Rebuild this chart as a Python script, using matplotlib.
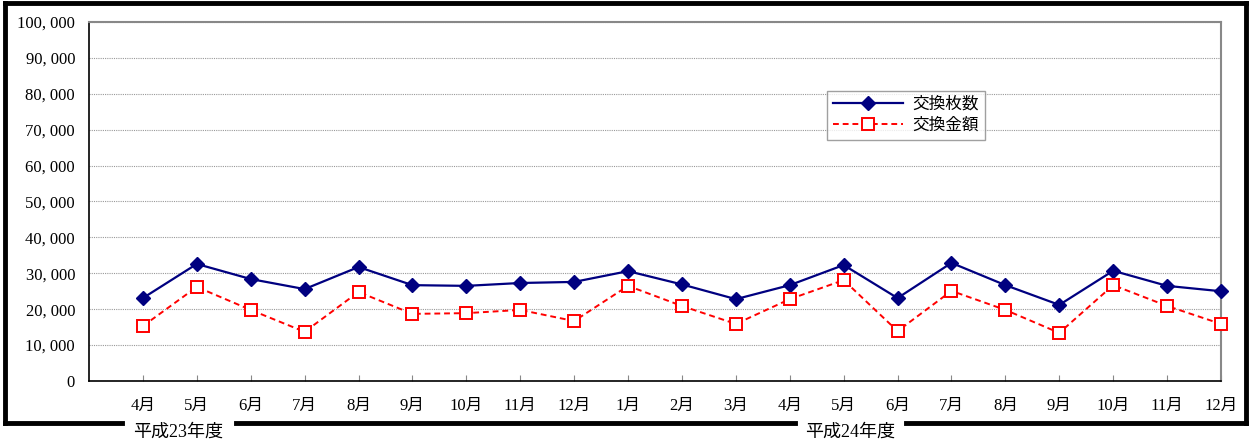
import numpy as np
import matplotlib.pyplot as plt
from matplotlib.lines import Line2D

plt.rcParams['font.family'] = ['Liberation Serif', 'Noto Sans CJK JP']

months = ['4月', '5月', '6月', '7月', '8月', '9月', '10月', '11月', '12月', '1月', '2月', '3月',
          '4月', '5月', '6月', '7月', '8月', '9月', '10月', '11月', '12月']
maisu = [23100, 32600, 28400, 25600, 31750, 26700, 26500, 27300, 27600, 30600, 26900, 22800,
         26700, 32300, 23100, 32900, 26700, 21200, 30700, 26500, 25000]
kingaku = [15300, 26200, 19800, 13700, 24800, 18700, 18900, 19800, 16700, 26500, 20900, 15900,
           22800, 28100, 13900, 25100, 19800, 13400, 26700, 20900, 15900]
fy_labels = ['平成23年度', '平成24年度']

W, H = 1252, 444
fig = plt.figure(figsize=(W / 100, H / 100), dpi=100)
ax = fig.add_axes([89 / W, 1 - 381 / H, (1221 - 89) / W, (381 - 22) / H])

x = np.arange(1, len(months) + 1)
ax.plot(x, maisu, color='#000080', lw=1.6, marker='D', ms=7, mfc='#000080', mec='#000080',
        label='交換枚数', clip_on=False, zorder=3)
ax.plot(x, kingaku, color='#ff0000', lw=1.4, ls=(0, (3, 2)), marker='s', ms=9, mfc='white',
        mec='#ff0000', mew=1.4, label='交換金額', clip_on=False, zorder=3)

ax.set_xlim(0, len(months))
ax.set_ylim(0, 100000)
ax.set_yticks(np.arange(0, 100001, 10000))
ax.set_yticklabels(['0'] + ['{:,}'.format(v).replace(',', ', ') for v in range(10000, 100001, 10000)],
                   fontsize=12)
ax.set_xticks(x)
ax.set_xticklabels(months, fontsize=12)
ax.tick_params(axis='x', direction='in', length=4, pad=12, color='#888888')
ax.tick_params(axis='y', length=0, pad=10)
ax.grid(axis='y', color='#999999', lw=0.8, ls=(0, (1, 1)))
ax.set_axisbelow(True)
for s in ['top', 'right']:
    ax.spines[s].set_color('#888888')
    ax.spines[s].set_linewidth(1.5)
for s in ['left', 'bottom']:
    ax.spines[s].set_color('black')
    ax.spines[s].set_linewidth(1.2)

leg = ax.legend(loc='upper left', bbox_to_anchor=((827 - 89) / 1132, 1 - (91 - 22) / 359),
                borderaxespad=0, fontsize=12, frameon=True, fancybox=False, edgecolor='#888888',
                handlelength=4.2, handletextpad=0.6, borderpad=0.35, labelspacing=0.3)
leg.get_frame().set_linewidth(1.0)

# outer frame with gaps for fiscal-year labels
def seg(x0, y0, x1, y1):
    fig.add_artist(Line2D([x0 / W, x1 / W], [1 - y0 / H, 1 - y1 / H], color='black', lw=3.5,
                          solid_capstyle='projecting'))

seg(5, 3, 1246, 3)
seg(5, 3, 5, 423)
seg(1246, 3, 1246, 423)
seg(5, 423, 122, 423)
seg(236, 423, 795, 423)
seg(906, 423, 1246, 423)

fig.text(178 / W, 1 - 432 / H, fy_labels[0], ha='center', va='center', fontsize=13)
fig.text(850 / W, 1 - 432 / H, fy_labels[1], ha='center', va='center', fontsize=13)

fig.savefig('out.png', dpi=100)
